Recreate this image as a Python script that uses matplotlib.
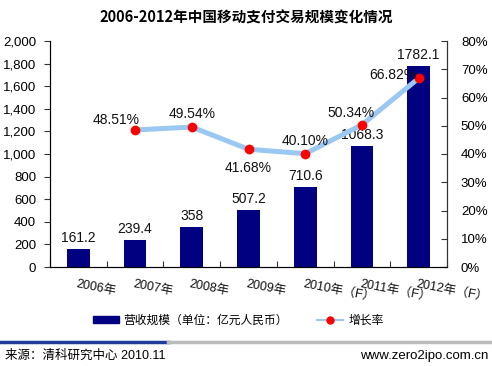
import matplotlib
matplotlib.use('Agg')
import matplotlib.pyplot as plt
from matplotlib.lines import Line2D
from matplotlib.patches import Patch
import numpy as np

plt.rcParams['font.family'] = ['Noto Sans CJK SC', 'DejaVu Sans']

# data
years = ['2006年', '2007年', '2008年', '2009年', '2010年（F）', '2011年（F）', '2012年（F）']
revenue = [161.2, 239.4, 358, 507.2, 710.6, 1068.3, 1782.1]
growth = [None, 48.51, 49.54, 41.68, 40.10, 50.34, 66.82]
revenue_labels = ['161.2', '239.4', '358', '507.2', '710.6', '1068.3', '1782.1']

num_font = ['Liberation Sans', 'DejaVu Sans']
mix_font = ['Liberation Sans', 'Noto Sans CJK SC']

fig = plt.figure(figsize=(4.92, 3.66), dpi=100)
ax = fig.add_axes([50 / 492, (366 - 267) / 366, 397 / 492, 226 / 366])
ax2 = ax.twinx()

x = np.arange(len(years))
ax.bar(x, revenue, width=0.4, color='#000080', zorder=2)
ax.set_xlim(-0.5, len(years) - 0.5)
ax.set_ylim(0, 2000)
ax.set_yticks(np.arange(0, 2001, 200))
ax.set_yticklabels([f'{v:,}' for v in range(0, 2001, 200)], family=num_font)
ax.set_xticks(np.arange(len(years) + 1) - 0.5)
ax.set_xticklabels([])
ax.tick_params(axis='x', length=4, direction='in', color='#333333')
ax.tick_params(axis='y', length=4, direction='out', labelsize=9.5, color='#333333', pad=6)
ax.spines['top'].set_visible(False)
for s in ['left', 'bottom', 'right']:
    ax.spines[s].set_color('#333333')

for i, v in enumerate(revenue):
    ax.text(x[i], v + 35, revenue_labels[i], ha='center', va='bottom',
            fontsize=10, family=num_font, color='#111111')

# category labels, slanted
for i, lab in enumerate(years):
    ax.text(x[i] - 0.02, -100, lab, rotation=-11, rotation_mode='anchor',
            ha='left', va='top', fontsize=9, family=mix_font, color='#111111')

gx = [i for i, g in enumerate(growth) if g is not None]
gy = [g for g in growth if g is not None]
ax2.plot(gx, gy, color='#99c9f2', lw=3.6, zorder=3)
ax2.plot(gx, gy, 'o', color='#ff0000', ms=6, zorder=4)
ax2.set_ylim(0, 80)
ax2.set_yticks(np.arange(0, 81, 10))
ax2.set_yticklabels([f'{v}%' for v in range(0, 81, 10)], family=num_font)
ax2.tick_params(axis='y', length=4, direction='in', labelsize=9.5, color='#333333', pad=10)
ax2.spines['top'].set_visible(False)
ax2.spines['right'].set_color('#333333')

offsets = {1: (-0.33, 3.5), 2: (0, 4.5), 3: (0, -6.5), 4: (0, 4.5), 5: (-0.2, 4), 6: (-0.45, 1)}
for i, g in zip(gx, gy):
    dx, dy = offsets[i]
    ax2.text(i + dx, g + dy, f'{g:.2f}%', ha='center', va='center',
             fontsize=10, family=num_font, color='#111111', zorder=5)

fig.text(0.5, 1 - 18 / 366, '2006-2012年中国移动支付交易规模变化情况', ha='center', va='center',
         fontsize=10.5, fontweight='bold')

handles = [Patch(color='#000080'),
           Line2D([0], [0], color='#99c9f2', lw=1.5, marker='o', mfc='#ff0000', mec='#ff0000', ms=5)]
fig.legend(handles, ['营收规模（单位：亿元人民币）', '增长率'], loc='center',
           bbox_to_anchor=(238 / 492, 1 - 320 / 366), ncol=2, frameon=False,
           fontsize=8.5, handlelength=2.2, handleheight=0.5, columnspacing=2.5, handletextpad=0.4)

# footer bar and text
fig.add_artist(Line2D([0, 168 / 492], [1 - 342 / 366] * 2, color='#1f3c99', lw=2.5))
fig.add_artist(Line2D([168 / 492, 1], [1 - 342 / 366] * 2, color='#bbbbbb', lw=2.5))
fig.text(5 / 492, 1 - 356 / 366, '来源：清科研究中心 2010.11', ha='left', va='center',
         fontsize=9, family=mix_font)
fig.text(488 / 492, 1 - 356 / 366, 'www.zero2ipo.com.cn', ha='right', va='center',
         fontsize=9.5, family=num_font)

fig.savefig('out.png', dpi=100)
